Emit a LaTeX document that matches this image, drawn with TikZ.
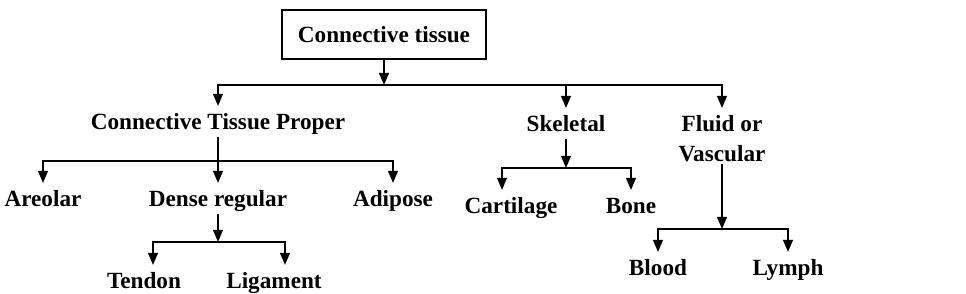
\documentclass[tikz,border=0pt]{standalone}
\usepackage{fontspec}
\setmainfont{Liberation Serif}
\usepackage{tikz}
\usetikzlibrary{arrows.meta}

\begin{document}
\begin{tikzpicture}[
    x=0.025cm, y=-0.025cm,
    rootbox/.style={rectangle, draw, line width=0.05cm, minimum width=5.1cm, minimum height=1.225cm, font=\fontsize{16.5}{20}\selectfont\bfseries},
    leaf/.style={anchor=north, inner xsep=1pt, inner ysep=0pt, text height=0.575cm, text depth=0.175cm, font=\fontsize{16.5}{21.3}\selectfont\bfseries},
    arrow/.style={-{Triangle[length=0.3cm, width=0.24cm]}, line width=0.05cm},
]
    \useasboundingbox (0,0) rectangle (966,294);

    \node[rootbox] (root) at (384,34.5) {Connective tissue};
    \node[leaf] (proper) at (218,106) {Connective Tissue Proper};
    \node[leaf] (skeletal) at (566,108) {Skeletal};
    \node[leaf, align=center, text height=1.325cm, text depth=0.05cm] (fluid) at (722,108) {Fluid or\\ Vascular};
    \node[leaf] (areolar) at (43,183) {Areolar};
    \node[leaf] (dense) at (218,183) {Dense regular};
    \node[leaf] (adipose) at (393,183) {Adipose};
    \node[leaf] (tendon) at (144,265) {Tendon};
    \node[leaf] (ligament) at (274,265) {Ligament};
    \node[leaf] (cartilage) at (511,190) {Cartilage};
    \node[leaf] (bone) at (631,190) {Bone};
    \node[leaf] (blood) at (658,252) {Blood};
    \node[leaf] (lymph) at (788,252) {Lymph};

    \coordinate (j0) at (384,85);
    \coordinate (j1) at (218,161);
    \coordinate (j2) at (218,242);
    \coordinate (j3) at (566,168);
    \coordinate (j4) at (722,229);

    \draw[arrow] (root) -- (j0);
    \draw[arrow] (j0) -| (proper);
    \draw[arrow] (j0) -| (skeletal);
    \draw[arrow] (j0) -| (fluid);

    \draw[arrow] (proper) -- (dense);
    \draw[arrow] (j1) -| (areolar);
    \draw[arrow] (j1) -| (adipose);

    \draw[arrow] (dense) -- (j2);
    \draw[arrow] (j2) -| ([xshift=0.225cm]tendon.north);
    \draw[arrow] (j2) -| ([xshift=0.275cm]ligament.north);

    \draw[arrow] (skeletal) -- (j3);
    \draw[arrow] (j3) -| ([xshift=-0.225cm]cartilage.north);
    \draw[arrow] (j3) -| (bone);

    \draw[arrow] (fluid) -- (j4);
    \draw[arrow] (j4) -| (blood);
    \draw[arrow] (j4) -| (lymph);
\end{tikzpicture}
\end{document}
